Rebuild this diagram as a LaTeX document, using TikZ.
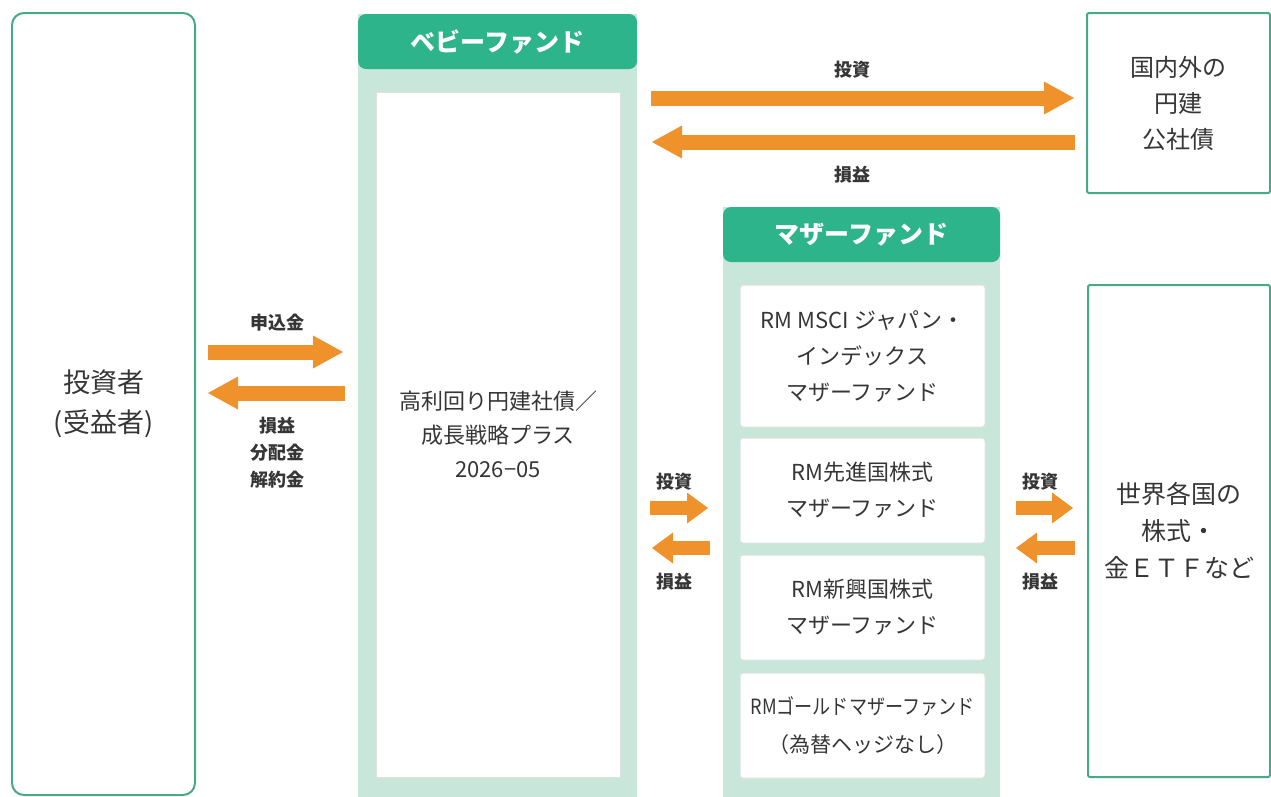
\documentclass[tikz,border=0pt]{standalone}
\usepackage{fontspec}
\setmainfont{Noto Sans CJK JP}
\usetikzlibrary{arrows.meta}
\definecolor{hdr}{HTML}{2DB48A}
\definecolor{panel}{HTML}{C8E7DA}
\definecolor{bord}{HTML}{45A98A}
\definecolor{org}{HTML}{F0922B}
\definecolor{txt}{HTML}{363636}
\tikzset{
  every node/.style={inner sep=0pt, outer sep=0pt, text=txt},
  outerbox/.style={draw=bord, line width=2pt, fill=white, anchor=north west, align=center},
  hdrbox/.style={fill=hdr, rounded corners=8pt, anchor=north west, text=white, font=\fontsize{25}{30}\selectfont\bfseries},
  panelbox/.style={fill=panel, anchor=north west},
  innerbox/.style={fill=white, draw=black!12, line width=1pt, anchor=north west, align=center, rounded corners=3pt},
  bigarr/.style={draw=org, line width=15pt, -{Triangle[length=30pt,width=33pt,line width=0pt]}},
  smallarr/.style={draw=org, line width=14pt, -{Triangle[length=21pt,width=31pt,line width=0pt]}},
  lbl/.style={font=\fontsize{18}{27}\selectfont\bfseries, align=center},
  boxtext/.style={font=\fontsize{25}{37}\selectfont},
  midtext/.style={font=\fontsize{22}{36}\selectfont},
}
\begin{document}
\begin{tikzpicture}[x=1pt,y=-1pt]
\useasboundingbox (0,0) rectangle (1271,796);
\fill[white] (0,0) rectangle (1271,796);

% investor
\node[outerbox, rounded corners=12pt, minimum width=183pt, minimum height=782pt, font=\fontsize{27}{40}\selectfont] (inv) at (12,13) {投資者\\(受益者)};

% baby fund
\node[panelbox, minimum width=279pt, minimum height=800pt] (babypanel) at (358,14) {};
\node[hdrbox, minimum width=279pt, minimum height=55pt] (babyhdr) at (358,14) {ベビーファンド};
\node[innerbox, rounded corners=0pt, minimum width=244pt, minimum height=685pt, font=\fontsize{22}{34}\selectfont] (baby) at (376,92) {高利回り円建社債／\\成長戦略プラス\\2026−05};

% mother fund
\node[panelbox, minimum width=277pt, minimum height=600pt] (motherpanel) at (723,207) {};
\node[hdrbox, minimum width=277pt, minimum height=55pt] (motherhdr) at (723,207) {マザーファンド};
\node[innerbox, minimum width=245pt, minimum height=142pt, midtext] (m1) at (740,285) {RM MSCI ジャパン・\\インデックス\\マザーファンド};
\node[innerbox, minimum width=245pt, minimum height=105pt, midtext] (m2) at (740,438) {RM先進国株式\\マザーファンド};
\node[innerbox, minimum width=245pt, minimum height=105pt, midtext] (m3) at (740,555) {RM新興国株式\\マザーファンド};
\node[innerbox, minimum width=245pt, minimum height=105pt, font=\fontsize{21}{38}\selectfont] (m4) at (740,673) {\scalebox{0.86}[1]{RMゴールドマザーファンド}\\（為替ヘッジなし）};

% right boxes
\node[outerbox, rounded corners=2pt, minimum width=183pt, minimum height=180pt, font=\fontsize{24}{36}\selectfont] (bonds) at (1087,13) {国内外の\\円建\\公社債};
\node[outerbox, rounded corners=2pt, minimum width=182pt, minimum height=492pt, boxtext] (world) at (1088,285) {世界各国の\\株式・\\金ＥＴＦなど};

% arrow end points
\coordinate (a1s) at (208,352); \coordinate (a1e) at (343,352);
\coordinate (a2s) at (345,393); \coordinate (a2e) at (208,393);
\coordinate (t1s) at (651,98);  \coordinate (t1e) at (1074,98);
\coordinate (t2s) at (1075,142); \coordinate (t2e) at (652,142);
\coordinate (b1s) at (650,508); \coordinate (b1e) at (708,508);
\coordinate (b2s) at (710,548); \coordinate (b2e) at (652,548);
\coordinate (c1s) at (1016,508); \coordinate (c1e) at (1073,508);
\coordinate (c2s) at (1075,548); \coordinate (c2e) at (1016,548);

\draw[bigarr] (a1s) -- (a1e);
\draw[bigarr] (a2s) -- (a2e);
\draw[bigarr] (t1s) -- (t1e);
\draw[bigarr] (t2s) -- (t2e);
\draw[smallarr] (b1s) -- (b1e);
\draw[smallarr] (b2s) -- (b2e);
\draw[smallarr] (c1s) -- (c1e);
\draw[smallarr] (c2s) -- (c2e);

% labels
\node[lbl] (l1) at (277,323) {申込金};
\node[lbl, anchor=north] (l2) at (277,417) {損益\\分配金\\解約金};
\node[lbl] (l3) at (852,70) {投資};
\node[lbl] (l4) at (852,175) {損益};
\node[lbl] (l5) at (674,482) {投資};
\node[lbl] (l6) at (674,582) {損益};
\node[lbl] (l7) at (1040,482) {投資};
\node[lbl] (l8) at (1040,582) {損益};
\end{tikzpicture}
\end{document}
